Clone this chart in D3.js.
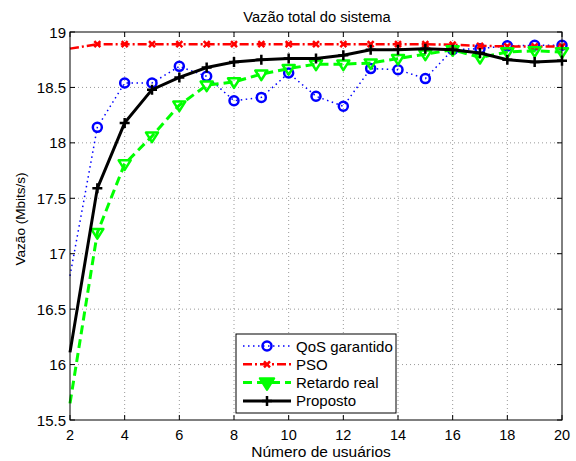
<!DOCTYPE html>
<html>
<head>
<meta charset="utf-8">
<script src="https://cdn.jsdelivr.net/npm/d3@7"></script>
<style>
  body { margin: 0; background: #fff; }
  svg text { font-family: "Liberation Sans", Arial, sans-serif; }
</style>
</head>
<body>
<div id="frame"></div>
<script>
// data
const usuarios = [2, 3, 4, 5, 6, 7, 8, 9, 10, 11, 12, 13, 14, 15, 16, 17, 18, 19, 20];
const qosGarantido = [16.8, 18.14, 18.54, 18.54, 18.69, 18.6, 18.38, 18.41, 18.63, 18.42, 18.33, 18.67, 18.66, 18.58, 18.84, 18.85, 18.875, 18.88, 18.88];
const pso = [18.85, 18.89, 18.89, 18.89, 18.89, 18.89, 18.89, 18.89, 18.89, 18.89, 18.89, 18.89, 18.89, 18.89, 18.885, 18.875, 18.87, 18.87, 18.87];
const retardoReal = [15.65, 17.19, 17.81, 18.06, 18.34, 18.52, 18.55, 18.62, 18.67, 18.71, 18.71, 18.72, 18.76, 18.8, 18.84, 18.77, 18.82, 18.83, 18.82];
const proposto = [16.11, 17.59, 18.18, 18.48, 18.59, 18.68, 18.73, 18.75, 18.76, 18.76, 18.79, 18.84, 18.84, 18.85, 18.84, 18.81, 18.75, 18.73, 18.74];
const xTicks = [2, 4, 6, 8, 10, 12, 14, 16, 18, 20];
const yTicks = [15.5, 16, 16.5, 17, 17.5, 18, 18.5, 19];

let margin = { top: 32, right: 14, bottom: 41, left: 70 },
    width = 576 - margin.left - margin.right,
    height = 461 - margin.top - margin.bottom;

let svg = d3.select('#frame')
    .append('svg')
    .attr('width', 576)
    .attr('height', 461);

let g = svg.append('g')
    .attr('transform', 'translate(' + margin.left + ',' + margin.top + ')');

let x = d3.scaleLinear().domain([2, 20]).range([0, width]);
let y = d3.scaleLinear().domain([15.5, 19]).range([height, 0]);

//grid
g.selectAll('.gx').data(xTicks.slice(1, -1)).enter().append('line')
    .attr('x1', d => x(d)).attr('x2', d => x(d))
    .attr('y1', 0).attr('y2', height)
    .attr('stroke', '#999').attr('stroke-width', 1).attr('stroke-dasharray', '1,3');
g.selectAll('.gy').data(yTicks.slice(1, -1)).enter().append('line')
    .attr('y1', d => y(d)).attr('y2', d => y(d))
    .attr('x1', 0).attr('x2', width)
    .attr('stroke', '#999').attr('stroke-width', 1).attr('stroke-dasharray', '1,3');

//ticks inside on all four sides
let tl = 5;
xTicks.forEach(t => {
    g.append('line').attr('x1', x(t)).attr('x2', x(t)).attr('y1', height).attr('y2', height - tl).attr('stroke', '#000');
    g.append('line').attr('x1', x(t)).attr('x2', x(t)).attr('y1', 0).attr('y2', tl).attr('stroke', '#000');
});
yTicks.forEach(t => {
    g.append('line').attr('y1', y(t)).attr('y2', y(t)).attr('x1', 0).attr('x2', tl).attr('stroke', '#000');
    g.append('line').attr('y1', y(t)).attr('y2', y(t)).attr('x1', width).attr('x2', width - tl).attr('stroke', '#000');
});

//tick labels
g.selectAll('.xl').data(xTicks).enter().append('text')
    .attr('x', d => x(d)).attr('y', height + 20)
    .attr('text-anchor', 'middle').style('font-size', '14.5px')
    .text(d => d);
g.selectAll('.yl').data(yTicks).enter().append('text')
    .attr('x', -4).attr('y', d => y(d) + 5.5)
    .attr('text-anchor', 'end').style('font-size', '15px')
    .text(d => d);

let line = d3.line().x((d, i) => x(usuarios[i])).y(d => y(d));

let series = [
    { name: 'QoS garantido', values: qosGarantido, color: '#0000ff', width: 1.5, dash: '1.5,3.5', marker: 'circle' },
    { name: 'PSO', values: pso, color: '#ff0000', width: 2.5, dash: '9,3,2,3', marker: 'x' },
    { name: 'Retardo real', values: retardoReal, color: '#00ff00', width: 3, dash: '9,5', marker: 'tri' },
    { name: 'Proposto', values: proposto, color: '#000000', width: 3, dash: null, marker: 'plus' }
];

function drawMarker(sel, type, color, cx, cy, legend) {
    if (type === 'circle') {
        sel.append('circle').attr('cx', cx).attr('cy', cy).attr('r', 4.5)
            .attr('fill', 'none').attr('stroke', color).attr('stroke-width', 2.5);
    } else if (type === 'x') {
        let s = 3;
        sel.append('path').attr('d', `M${cx - s},${cy - s}L${cx + s},${cy + s}M${cx - s},${cy + s}L${cx + s},${cy - s}`)
            .attr('stroke', color).attr('stroke-width', 2.5);
    } else if (type === 'tri') {
        let s = legend ? 7 : 6;
        sel.append('path').attr('d', `M${cx - s},${cy - s * 0.6}L${cx + s},${cy - s * 0.6}L${cx},${cy + s}Z`)
            .attr('fill', legend ? color : 'none').attr('stroke', color).attr('stroke-width', 2.5)
            .attr('stroke-linejoin', 'round');
    } else if (type === 'plus') {
        let s = 5;
        sel.append('path').attr('d', `M${cx - s},${cy}L${cx + s},${cy}M${cx},${cy - s}L${cx},${cy + s}`)
            .attr('stroke', color).attr('stroke-width', 2.5);
    }
}

series.forEach(s => {
    let sg = g.append('g');
    sg.append('path').datum(s.values)
        .attr('d', line)
        .attr('fill', 'none')
        .attr('stroke', s.color)
        .attr('stroke-width', s.width)
        .attr('stroke-dasharray', s.dash);
    s.values.forEach((v, i) => {
        if (i === 0) return;
        drawMarker(sg, s.marker, s.color, x(usuarios[i]), y(v), false);
    });
});

//axes box
g.append('rect').attr('width', width).attr('height', height)
    .attr('fill', 'none').attr('stroke', '#000').attr('stroke-width', 1);

//legend
let lg = svg.append('g').attr('transform', 'translate(236,334)');
lg.append('rect').attr('width', 160).attr('height', 79)
    .attr('fill', '#fff').attr('stroke', '#000').attr('stroke-width', 1);
series.forEach((s, i) => {
    let ly = 12 + i * 18.3;
    lg.append('line').attr('x1', 7).attr('x2', 55).attr('y1', ly).attr('y2', ly)
        .attr('stroke', s.color).attr('stroke-width', s.width).attr('stroke-dasharray', s.dash);
    drawMarker(lg, s.marker, s.color, 31, ly, true);
    lg.append('text').attr('x', 60).attr('y', ly + 5.5)
        .style('font-size', '15px').text(s.name);
});

//title and axis labels
svg.append('text').attr('x', 317).attr('y', 21.5)
    .attr('text-anchor', 'middle').style('font-size', '14.7px')
    .text('Vazão total do sistema');
svg.append('text').attr('x', 321).attr('y', 457)
    .attr('text-anchor', 'middle').style('font-size', '15.5px')
    .text('Número de usuários');
svg.append('text')
    .attr('transform', 'translate(25,219) rotate(-90)')
    .attr('text-anchor', 'middle').style('font-size', '13.5px')
    .text('Vazão (Mbits/s)');
</script>
</body>
</html>
